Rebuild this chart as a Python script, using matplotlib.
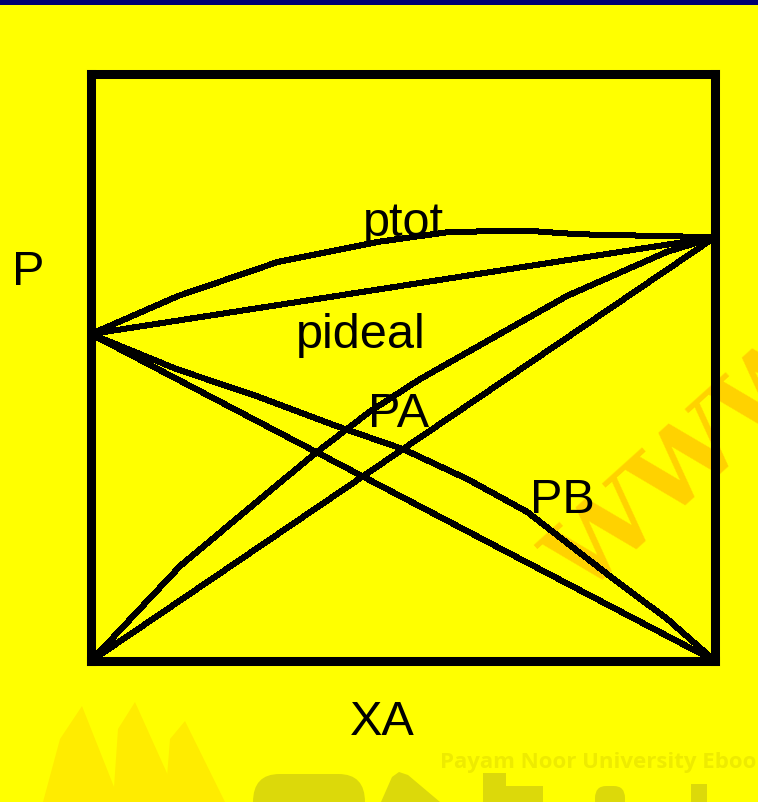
import matplotlib.pyplot as plt
from matplotlib.patches import Rectangle, Polygon, FancyBboxPatch

# mole fraction of A and pressures (box = 0..1 on both axes)
pa_star = 0.722
pb_star = 0.557

xa_tot = [0, 0.14, 0.30, 0.46, 0.575, 0.70, 0.78, 0.91, 1.0]
p_tot = [pb_star, 0.622, 0.680, 0.714, 0.731, 0.733, 0.727, 0.724, pa_star]

xa_a = [0, 0.143, 0.271, 0.362, 0.447, 0.527, 0.763, 0.923, 1.0]
p_a = [0, 0.162, 0.276, 0.356, 0.425, 0.480, 0.622, 0.697, pa_star]

xa_b = [0, 0.138, 0.266, 0.394, 0.5, 0.603, 0.699, 0.837, 0.923, 1.0]
p_b = [pb_star, 0.497, 0.451, 0.400, 0.361, 0.310, 0.254, 0.140, 0.072, 0]

W, H = 758, 803
yellow = '#ffff00'


def fx(px):
    return px / W


def fy(py):
    return 1 - py / H


def poly(pts, color):
    fig.patches.append(Polygon([(fx(a), fy(b)) for a, b in pts], closed=True, lw=0,
                               transform=fig.transFigure, color=color, zorder=-2))


fig = plt.figure(figsize=(W / 100, H / 100), dpi=100, facecolor=yellow)

# navy strip on top of the slide
fig.patches.append(Rectangle((0, fy(6)), 1, 6 / H, transform=fig.transFigure,
                             color='#000070', lw=0, zorder=-2))

# faint watermark bits (slide background, not chart data)
for pts in [[(43, 803), (60, 740), (82, 707), (120, 803)],
            [(113, 803), (118, 730), (135, 703), (180, 803)],
            [(165, 803), (170, 740), (185, 722), (225, 803)]]:
    poly(pts, '#ffec00')
wm = '#dcd90a'
fig.patches.append(FancyBboxPatch((fx(253), fy(830)), fx(365) - fx(253), fy(775) - fy(830),
                                  boxstyle='round,pad=0,rounding_size=0.035', lw=0,
                                  transform=fig.transFigure, color=wm, zorder=-2))
poly([(381, 803), (392, 778), (399, 773), (408, 776), (440, 803)], wm)
poly([(483, 803), (483, 774), (506, 774), (506, 787), (543, 787), (543, 803)], wm)
fig.patches.append(FancyBboxPatch((fx(595), fy(830)), fx(625) - fx(595), fy(787) - fy(830),
                                  boxstyle='round,pad=0,rounding_size=0.015', lw=0,
                                  transform=fig.transFigure, color=wm, zorder=-2))
poly([(691, 803), (691, 785), (707, 785), (707, 803)], wm)
fig.text(fx(440), fy(768), 'Payam Noor University Ebooks', fontsize=16,
         family='Open Sans', weight='bold', color='#eeeb00', zorder=-1)
fig.text(fx(690), fy(465), 'WWW', rotation=42, fontsize=72, family='DejaVu Serif',
         weight='bold', color='#ffd200', ha='center', va='center', zorder=-1)

ax = fig.add_axes([fx(91), fy(662), fx(715) - fx(91), fy(75) - fy(662)])
ax.set_facecolor('none')
ax.set_xlim(0, 1)
ax.set_ylim(0, 1)
for s in ax.spines.values():
    s.set_linewidth(6.5)
    s.set_color('black')
ax.set_xticks([])
ax.set_yticks([])

kw = dict(color='black', lw=3.6, clip_on=False, antialiased=False,
          solid_joinstyle='round', solid_capstyle='round')
ax.plot(xa_tot, p_tot, **kw)
ax.plot([0, 1], [pb_star, pa_star], **kw)   # pideal
ax.plot(xa_a, p_a, **kw)
ax.plot([0, 1], [0, pa_star], **kw)
ax.plot(xa_b, p_b, **kw)
ax.plot([0, 1], [pb_star, 0], **kw)

lab = dict(fontsize=35, family='Liberation Sans', color='black', va='baseline')
fig.text(fx(12), fy(285), 'P', **lab)
fig.text(fx(363), fy(236), 'ptot', **lab)
fig.text(fx(296), fy(348), 'pideal', **lab)
fig.text(fx(368), fy(427), 'PA', **lab)
fig.text(fx(530), fy(513), 'PB', **lab)
fig.text(fx(350), fy(735), 'XA', **lab)

plt.savefig('out.png', dpi=100, facecolor=yellow)
